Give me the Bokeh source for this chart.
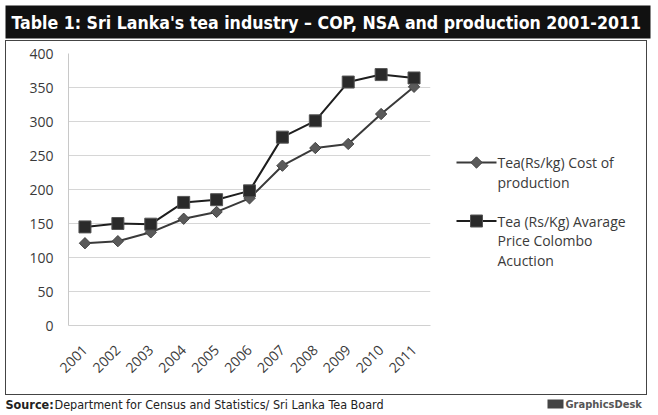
import math
from bokeh.plotting import figure
from bokeh.layouts import column, row
from bokeh.models import Range1d, FixedTicker, Spacer
from bokeh.core.properties import value
from bokeh.embed import file_html
from bokeh.resources import INLINE

years = ["2001", "2002", "2003", "2004", "2005", "2006", "2007", "2008", "2009", "2010", "2011"]
cop = [121, 124, 137, 157, 167, 187, 235, 261, 267, 311, 351]
price = [145, 150, 149, 181, 185, 198, 277, 301, 358, 369, 364]
y_ticks = [0, 50, 100, 150, 200, 250, 300, 350, 400]

title_text = "Table 1: Sri Lanka's tea industry \u2013 COP, NSA and production 2001-2011"
source_bold = "Source:"
source_rest = "Department for Census and Statistics/ Sri Lanka Tea Board"
cop_lines = ["Tea(Rs/kg) Cost of", "production"]
price_lines = ["Tea (Rs/Kg) Avarage", "Price Colombo", "Acuction"]
brand = "GraphicsDesk"

NARROW = "'Liberation Sans Narrow', 'DejaVu Sans Condensed', sans-serif"
BODY = "Open Sans"
TXT = "#3a3a3a"
COP_LINE = "#3a3a3a"
COP_FILL = "#5a5a5a"
PR_LINE = "#1e1e1e"
PR_FILL = "#2a2a2a"


def blank(w, h, y_top=0, y_bottom=None):
    if y_bottom is None:
        y_bottom = h
    f = figure(width=w, height=h, x_range=Range1d(0, w), y_range=Range1d(y_bottom, y_top),
               output_backend="svg", toolbar_location=None,
               min_border=0, x_axis_location=None, y_axis_location=None)
    f.grid.visible = False
    f.outline_line_color = None
    f.background_fill_color = "white"
    f.border_fill_color = "white"
    return f


# ---- title bar ----
t = blank(652, 40)
t.quad(left=[5], right=[650], top=[5], bottom=[38], fill_color="#111111", line_color=None)
t.text(x=[11], y=[22], text=[title_text], text_font=value(NARROW), text_font_style="bold",
       text_font_size="17.6px", text_color="white", text_baseline="middle")

# ---- main chart ----
p = figure(width=432, height=353, x_range=years, y_range=Range1d(0, 400),
           output_backend="svg", toolbar_location=None,
           min_border_left=62, min_border_right=8, min_border_top=12, min_border_bottom=69)
p.outline_line_color = None
p.background_fill_color = "white"
p.border_fill_color = "white"
p.xgrid.grid_line_color = None
p.ygrid.grid_line_color = "#d6d6d6"
p.ygrid.grid_line_width = 1

p.yaxis.ticker = FixedTicker(ticks=y_ticks)
p.yaxis.axis_line_color = "#c8c8c8"
p.yaxis.major_tick_line_color = None
p.yaxis.minor_tick_line_color = None
p.yaxis.major_label_text_font = BODY
p.yaxis.major_label_text_font_size = "14px"
p.yaxis.major_label_text_color = TXT
p.yaxis.major_label_standoff = 9

p.xaxis.axis_line_color = "#d0d0d0"
p.xaxis.major_tick_line_color = None
p.xaxis.major_label_text_font = BODY
p.xaxis.major_label_text_font_size = "14px"
p.xaxis.major_label_text_color = TXT
p.xaxis.major_label_orientation = math.pi / 4
p.xaxis.major_label_standoff = 16

p.line(years, cop, line_color=COP_LINE, line_width=2)
p.scatter(years, cop, marker="square", angle=math.pi / 4, size=8,
          fill_color=COP_FILL, line_color="#444444")
p.line(years, price, line_color=PR_LINE, line_width=2)
p.scatter(years, price, marker="square", size=12, fill_color=PR_FILL, line_color="#555555")

# ---- legend panel (its frame is aligned with the chart's frame; page-pixel y coords) ----
lg = blank(208, 353, y_top=53.5, y_bottom=325.5)
lg.line([18, 58], [162.5, 162.5], line_color=COP_LINE, line_width=2)
lg.scatter([38], [162.5], marker="square", angle=math.pi / 4, size=8, fill_color=COP_FILL, line_color="#444444")
lg.text(x=[59] * len(cop_lines), y=[162.5 + 19.5 * i for i in range(len(cop_lines))], text=cop_lines,
        text_font=value(BODY), text_font_size="14px", text_color=TXT, text_baseline="middle")
lg.line([18, 58], [221, 221], line_color=PR_LINE, line_width=2)
lg.scatter([38], [221], marker="square", size=12, fill_color=PR_FILL, line_color="#555555")
lg.text(x=[59] * len(price_lines), y=[221 + 19.5 * i for i in range(len(price_lines))], text=price_lines,
        text_font=value(BODY), text_font_size="14px", text_color=TXT, text_baseline="middle")

# ---- footer ----
ft = blank(652, 16)
ft.text(x=[5], y=[9], text=[source_bold], text_font=value(NARROW), text_font_style="bold",
        text_font_size="12.5px", text_color="#222222", text_baseline="middle")
ft.text(x=[54], y=[9], text=[source_rest], text_font=value(NARROW),
        text_font_size="12.5px", text_color="#222222", text_baseline="middle")
ft.quad(left=[547], right=[563], top=[4], bottom=[13], fill_color="#444444", line_color=None)
ft.text(x=[565], y=[9], text=[brand], text_font=value(NARROW), text_font_style="bold",
        text_font_size="11px", text_color="#555555", text_baseline="middle")

body = row(p, lg, styles={"border": "1.5px solid #444444"})
layout = column(t, row(Spacer(width=5, height=10), body), ft)

open("out.html", "w").write(file_html(layout, INLINE))
